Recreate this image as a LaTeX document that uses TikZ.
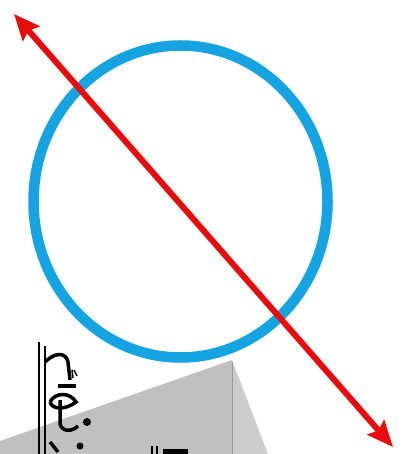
\documentclass[tikz,border=0pt]{standalone}
\usetikzlibrary{arrows.meta}
\definecolor{ringblue}{RGB}{22,163,226}
\definecolor{arrowred}{RGB}{232,12,12}
\definecolor{shadegray}{RGB}{192,192,192}
\definecolor{shadegraylight}{RGB}{205,205,205}
\tikzset{
  ring/.style={draw=ringblue, line width=10.5pt},
  redarrow/.style={draw=arrowred, line width=6pt, {Stealth[length=26pt,width=22pt,inset=4pt]}-{Stealth[length=26pt,width=22pt,inset=4pt]}},
  ink/.style={draw=black, line width=3.5pt},
}
\begin{document}
\begin{tikzpicture}[x=1pt,y=-1pt]
\useasboundingbox[fill=white] (0,0) rectangle (403,454);
% gray polygon
\fill[shadegray] (0,441) -- (232,360) -- (232,454) -- (0,454) -- cycle;
\fill[shadegraylight] (232,360) -- (268,454) -- (232,454) -- cycle;
\draw[gray!80, line width=0.8pt] (232,362) -- (232,454);
% ring
\draw[ring] (180.5,201.5) ellipse [x radius=147, y radius=156];
% black marks
\draw[black, line width=2.6pt] (39,342) -- (39,454);
\draw[black, line width=2.6pt] (45,346) -- (45,454);
\draw[ink] (45,362) .. controls (55,352) and (66,352) .. (68,362) -- (70,380);
\draw[black, line width=1.5pt] (72,370) -- (73,378) (74,370) -- (77,376);
\draw[ink] (58,386) -- (76,386);
\draw[ink] (50,402) .. controls (55,392) and (70,392) .. (76,402) .. controls (66,410) and (52,410) .. (50,402);
\draw[ink] (60,400) -- (60,424) .. controls (62,432) and (72,432) .. (78,426);
\fill (87,422) circle (4);
\draw[ink] (50,442) -- (58,452);
\fill (80,446) circle (3.5);
\draw[black, line width=1.8pt] (152,446) -- (152,454) (157,446) -- (157,454);
\fill (163,449) rectangle (188,454);
% arrow
\coordinate (p) at (14,14);
\coordinate (q) at (393,447);
\draw[redarrow] (p) -- (q);
\end{tikzpicture}
\end{document}
